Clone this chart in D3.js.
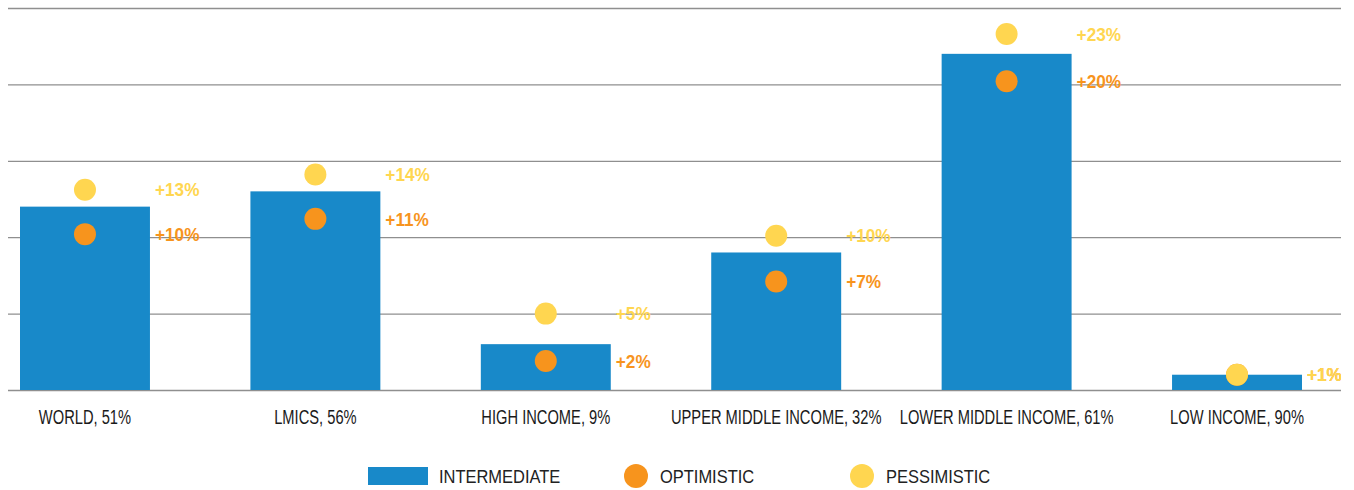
<!DOCTYPE html>
<html>
<head>
<meta charset="utf-8">
<script src="https://cdn.jsdelivr.net/npm/d3@7"></script>
<style>
  body { margin: 0; background: #fff; }
  svg { display: block; font-family: "Liberation Sans", Arial, sans-serif; }
</style>
</head>
<body>
<div id="chart"></div>
<script>
// chart data
const categories = ['WORLD, 51%', 'LMICS, 56%', 'HIGH INCOME, 9%', 'UPPER MIDDLE INCOME, 32%', 'LOWER MIDDLE INCOME, 61%', 'LOW INCOME, 90%'];
const intermediate = [12, 13, 3, 9, 22, 1];
const optimistic = [10.2, 11.2, 1.9, 7.1, 20.2, 1];
const pessimistic = [13.1, 14.1, 5, 10.1, 23.3, 1];
const yTicks = [0, 5, 10, 15, 20, 25];
const legendItems = ['INTERMEDIATE', 'OPTIMISTIC', 'PESSIMISTIC'];

const width = 1354;
const height = 490;
const colors = { bar: '#1889c9', opt: '#f7941d', pess: '#ffd650' };

const svg = d3.select('#chart')
  .append('svg')
  .attr('width', width)
  .attr('height', height);

// scales
const x = d3.scaleBand()
  .domain(categories)
  .range([20, 1302])
  .paddingInner(0.436)
  .paddingOuter(0);

const y = d3.scaleLinear()
  .domain([0, 25])
  .range([390, 8]);

// clip for the plot area (labels get cut at the right edge)
svg.append('defs')
  .append('clipPath')
  .attr('id', 'plot-clip')
  .append('rect')
  .attr('x', 0)
  .attr('y', 0)
  .attr('width', 1341)
  .attr('height', 400);

// gridlines
const grid = d3.axisLeft(y)
  .tickValues(yTicks)
  .tickSize(-(1341 - 8))
  .tickFormat('');

svg.append('g')
  .attr('class', 'grid')
  .attr('transform', 'translate(8,0)')
  .call(grid)
  .call((g) => g.select('.domain').remove())
  .call((g) => g.selectAll('line').attr('stroke', '#8f8f8f').attr('stroke-width', 1.3));

const plot = svg.append('g').attr('clip-path', 'url(#plot-clip)');

// bars
plot.selectAll('.bar')
  .data(intermediate)
  .enter()
  .append('rect')
  .attr('class', 'bar')
  .attr('x', (d, i) => x(categories[i]))
  .attr('y', (d) => y(d))
  .attr('width', x.bandwidth())
  .attr('height', (d) => y(0) - y(d))
  .attr('fill', colors.bar);

const cx = (i) => x(categories[i]) + x.bandwidth() / 2;
const labelX = (i) => x(categories[i]) + x.bandwidth() + 5;

// scenario dots + labels (optimistic first so pessimistic sits on top)
[
  { values: optimistic, color: colors.opt },
  { values: pessimistic, color: colors.pess },
].forEach((s) => {
  plot.selectAll(null)
    .data(s.values)
    .enter()
    .append('circle')
    .attr('cx', (d, i) => cx(i))
    .attr('cy', (d) => y(d))
    .attr('r', 11)
    .attr('fill', s.color);

  plot.selectAll(null)
    .data(s.values)
    .enter()
    .append('text')
    .attr('transform', (d, i) => `translate(${labelX(i)},${y(d)}) scale(0.93,1)`)
    .attr('dy', '0.36em')
    .attr('fill', s.color)
    .style('font-size', '18.5px')
    .style('font-weight', 'bold')
    .text((d) => `+${Math.round(d)}%`);
});

// category labels
const xAxis = svg.append('g')
  .attr('transform', 'translate(0,390)')
  .call(d3.axisBottom(x).tickSize(0).tickPadding(0));

xAxis.select('.domain').remove();
xAxis.selectAll('text')
  .attr('y', 26)
  .attr('dy', '0.36em')
  .attr('transform', 'scale(0.7,1)')
  .attr('fill', '#1a1a1a')
  .style('font-size', '21px')
  .style('font-family', '"Liberation Sans", Arial, sans-serif');

// legend
const legend = svg.append('g').attr('transform', 'translate(0,476)');

legend.append('rect')
  .attr('x', 368)
  .attr('y', -9)
  .attr('width', 60)
  .attr('height', 18)
  .attr('fill', colors.bar);

legend.append('circle')
  .attr('cx', 636)
  .attr('cy', 0)
  .attr('r', 12)
  .attr('fill', colors.opt);

legend.append('circle')
  .attr('cx', 862)
  .attr('cy', 0)
  .attr('r', 12)
  .attr('fill', colors.pess);

legend.selectAll('.legend-label')
  .data(legendItems)
  .enter()
  .append('text')
  .attr('class', 'legend-label')
  .attr('transform', (d, i) => `translate(${[439, 660, 886][i]},0) scale(0.89,1)`)
  .attr('dy', '0.36em')
  .attr('fill', '#222')
  .style('font-size', '18.5px')
  .text((d) => d);
</script>
</body>
</html>
